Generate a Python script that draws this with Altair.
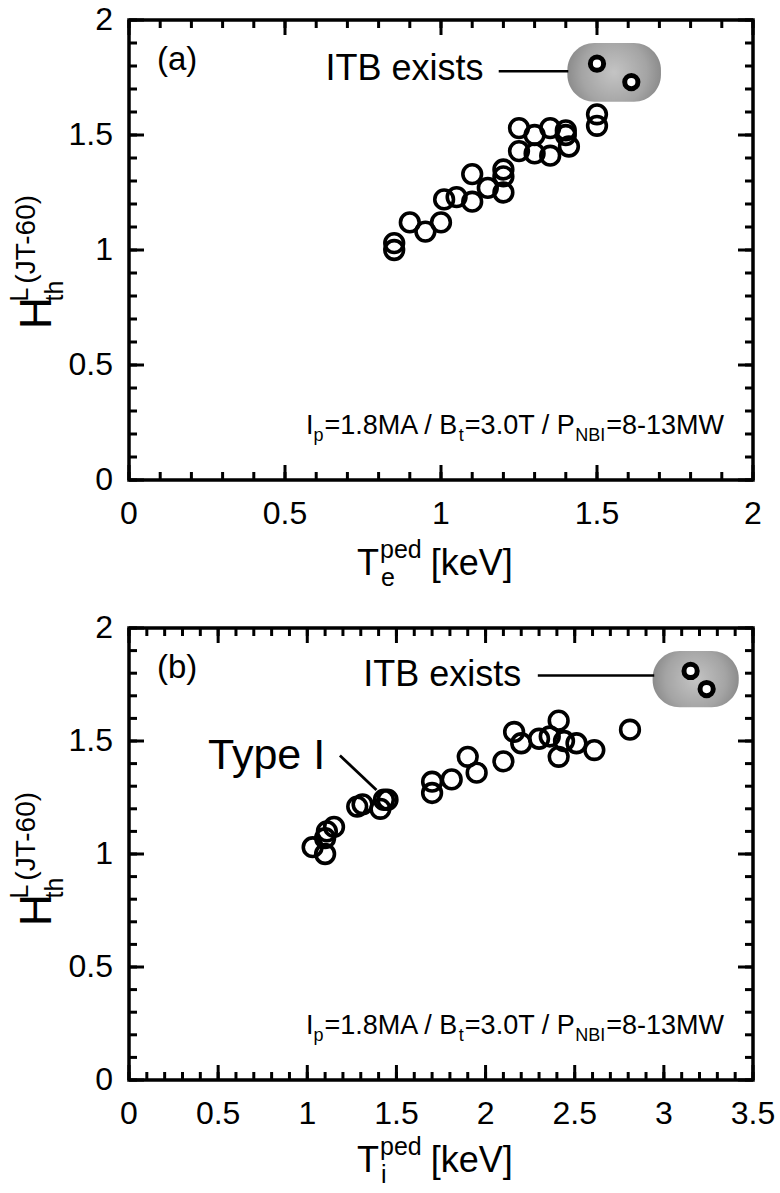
import altair as alt
import pandas as pd

FONT = "Liberation Sans"

# ---- (a) thermal H-factor vs electron pedestal temperature ----
te_ped = [0.85, 0.85, 0.90, 0.95, 1.00, 1.01, 1.05, 1.10, 1.10, 1.15, 1.20, 1.20, 1.20,
          1.25, 1.25, 1.30, 1.30, 1.35, 1.35, 1.40, 1.40, 1.41, 1.50, 1.50]
hth_a = [1.03, 1.00, 1.12, 1.08, 1.12, 1.22, 1.23, 1.21, 1.33, 1.27, 1.25, 1.32, 1.35,
         1.53, 1.43, 1.50, 1.42, 1.53, 1.41, 1.52, 1.50, 1.45, 1.59, 1.54]
te_ped_itb = [1.50, 1.61]
hth_a_itb = [1.81, 1.73]

# ---- (b) thermal H-factor vs ion pedestal temperature ----
ti_ped = [1.03, 1.10, 1.10, 1.11, 1.15, 1.28, 1.31, 1.41, 1.43, 1.45, 1.70, 1.70, 1.81,
          1.90, 1.95, 2.10, 2.16, 2.20, 2.30, 2.36, 2.41, 2.41, 2.44, 2.51, 2.61, 2.81]
hth_b = [1.03, 1.00, 1.07, 1.10, 1.12, 1.21, 1.22, 1.20, 1.24, 1.24, 1.32, 1.27, 1.33,
         1.43, 1.36, 1.41, 1.54, 1.49, 1.51, 1.52, 1.59, 1.43, 1.50, 1.49, 1.46, 1.55]
ti_ped_itb = [3.15, 3.24]
hth_b_itb = [1.81, 1.73]

# axis ticks and their labels
y_major = [0, 0.5, 1, 1.5, 2]
y_labels = ["0", "0.5", "1", "1.5", "2"]
y_minor = [i / 10 for i in range(21)]
x_major_a = [0, 0.5, 1, 1.5, 2]
x_labels_a = ["0", "0.5", "1", "1.5", "2"]
x_minor_a = [i / 10 for i in range(21)]
x_major_b = [0, 0.5, 1, 1.5, 2, 2.5, 3, 3.5]
x_labels_b = ["0", "0.5", "1", "1.5", "2", "2.5", "3", "3.5"]
x_minor_b = [i / 10 for i in range(36)]

W = 624
HA, HB = 460, 452
MAJOR, MINOR = 15, 8
TICK_FONT = 32
ONE = pd.DataFrame({"k": [0]})

# Arial / Liberation Sans advance widths (1/1000 em) for composing sub/superscripts
ADV = {" ": 278, "(": 333, ")": 333, "-": 333, ".": 278, "/": 278, "=": 584, "[": 278,
       "]": 278, "A": 667, "B": 667, "I": 278, "J": 500, "L": 556, "M": 833, "N": 722,
       "P": 667, "T": 611, "V": 667, "W": 944, "d": 556, "e": 556, "h": 556, "i": 222,
       "k": 500, "p": 556, "t": 278}


def tw(s, size):
    return sum(ADV.get(c, 556) for c in s) * size / 1000.0


def txt(s, size, x, y, angle=0):
    kw = dict(text=s, font=FONT, fontSize=size, align="left", baseline="alphabetic",
              color="black")
    if angle:
        kw["angle"] = angle
    return alt.Chart(ONE).mark_text(**kw).encode(x=alt.value(x), y=alt.value(y))


def y_title(bottom):
    # H_th^L (JT-60), read bottom-to-top
    layers = [txt("H", 44, -78, bottom, 270)]
    s = bottom - tw("H", 44) - 3
    layers.append(txt("th", 25, -66, s, 270))
    layers.append(txt("L", 25, -101, s, 270))
    s2 = s - tw("L", 25) - 4
    layers.append(txt("(JT-60)", 28, -94, s2, 270))
    return layers


def x_title(sub, base):
    x0 = 228
    layers = [txt("T", 36, x0, base)]
    x1 = x0 + tw("T", 36) + 1
    layers.append(txt("ped", 25, x1, base - 17))
    layers.append(txt(sub, 25, x1 + 1, base + 11))
    x2 = x1 + tw("ped", 25) + 9
    layers.append(txt("[keV]", 36, x2, base))
    return layers


def conditions(base):
    big, small = 27, 18
    x = 177
    out = []
    for s, sz, dy in [("I", big, 0), ("p", small, 7), ("=1.8MA / B", big, 0),
                      ("t", small, 7), ("=3.0T / P", big, 0), ("NBI", small, 7),
                      (" =8-13MW", big, 0)]:
        out.append(txt(s, sz, x, base + dy))
        x += tw(s, sz) + (1 if sz == small else 0)
    return out


def ticks(values, scale, ch, H, length):
    df = pd.DataFrame({"v": values})
    base = alt.Chart(df).mark_rule(color="black", strokeWidth=3)
    if ch == "x":
        e = alt.X("v:Q", scale=scale, axis=None)
        return [base.encode(x=e, y=alt.value(H), y2=alt.value(H - length)),
                base.encode(x=e, y=alt.value(0), y2=alt.value(length))]
    e = alt.Y("v:Q", scale=scale, axis=None)
    return [base.encode(y=e, x=alt.value(0), x2=alt.value(length)),
            base.encode(y=e, x=alt.value(W), x2=alt.value(W - length))]


def tick_labels(values, labels, scale, ch, H):
    df = pd.DataFrame({"v": values, "lab": labels})
    if ch == "x":
        return alt.Chart(df).mark_text(
            font=FONT, fontSize=TICK_FONT, align="center", baseline="top", color="black"
        ).encode(x=alt.X("v:Q", scale=scale, axis=None), y=alt.value(H + 19), text="lab:N")
    return alt.Chart(df).mark_text(
        font=FONT, fontSize=TICK_FONT, align="right", baseline="middle", color="black"
    ).encode(y=alt.Y("v:Q", scale=scale, axis=None), x=alt.value(-16), text="lab:N")


def panel(xv, yv, x_itb, y_itb, xmax, x_major, x_labels, x_minor, H, tag, sub,
          itb_txt, itb_line, blob, title_bottom, cond_base, xtitle_base, extra=None):
    xs = alt.Scale(domain=[0, xmax], nice=False, zero=False)
    ys = alt.Scale(domain=[0, 2], nice=False, zero=False)

    def X(f):
        return alt.X(f, scale=xs, axis=None)

    def Y(f):
        return alt.Y(f, scale=ys, axis=None)

    shade = alt.Chart(pd.DataFrame([blob])).mark_rect(
        cornerRadius=27,
        fill=alt.Gradient(gradient="radial",
                          stops=[alt.GradientStop(color="#c4c4c4", offset=0),
                                 alt.GradientStop(color="#a4a4a4", offset=0.7),
                                 alt.GradientStop(color="#8c8c8c", offset=1)])
    ).encode(x=X("x:Q"), x2="x2:Q", y=Y("y:Q"), y2="y2:Q")

    pts = alt.Chart(pd.DataFrame({"x": xv, "y": yv})).mark_point(
        shape="circle", filled=False, size=350, strokeWidth=3.6, color="black", opacity=1
    ).encode(x=X("x:Q"), y=Y("y:Q"))

    itb = alt.Chart(pd.DataFrame({"x": x_itb, "y": y_itb})).mark_circle(
        size=175, fill="white", stroke="black", strokeWidth=5, opacity=1
    ).encode(x=X("x:Q"), y=Y("y:Q"))

    label = alt.Chart(pd.DataFrame([itb_txt])).mark_text(
        text="ITB exists", font=FONT, fontSize=36, align="right", baseline="alphabetic",
        color="black"
    ).encode(x=X("x:Q"), y=Y("y:Q"))

    leader = alt.Chart(pd.DataFrame([itb_line])).mark_rule(
        color="black", strokeWidth=2.6
    ).encode(x=X("x:Q"), x2="x2:Q", y=Y("y:Q"), y2="y2:Q")

    layers = [shade, pts, itb, label, leader, txt(tag, 33, 28, 50)]
    if extra is not None:
        (tx, ty), (lx, ly, lx2, ly2) = extra
        layers.append(alt.Chart(pd.DataFrame([{"x": tx, "y": ty}])).mark_text(
            text="Type I", font=FONT, fontSize=43, align="right", baseline="alphabetic",
            color="black"
        ).encode(x=X("x:Q"), y=Y("y:Q")))
        layers.append(alt.Chart(pd.DataFrame([{"x": lx, "y": ly, "x2": lx2, "y2": ly2}])).mark_rule(
            color="black", strokeWidth=2.8
        ).encode(x=X("x:Q"), x2="x2:Q", y=Y("y:Q"), y2="y2:Q"))
    layers += ticks(x_minor, xs, "x", H, MINOR) + ticks(x_major, xs, "x", H, MAJOR)
    layers += ticks(y_minor, ys, "y", H, MINOR) + ticks(y_major, ys, "y", H, MAJOR)
    layers += [tick_labels(x_major, x_labels, xs, "x", H),
               tick_labels(y_major, y_labels, ys, "y", H)]
    layers += y_title(title_bottom) + x_title(sub, xtitle_base) + conditions(cond_base)
    return layers


layers_a = panel(te_ped, hth_a, te_ped_itb, hth_a_itb, 2, x_major_a, x_labels_a, x_minor_a,
                 HA, "(a)", "e",
                 {"x": 1.136, "y": 1.741},
                 {"x": 1.185, "x2": 1.408, "y": 1.777, "y2": 1.777},
                 {"x": 1.405, "x2": 1.705, "y": 1.645, "y2": 1.900},
                 309, 414, 555)
# fixes the outer corner of the drawing so the page offset is predictable
anchor = alt.Chart(ONE).mark_rule(strokeOpacity=0).encode(
    x=alt.value(-127), x2=alt.value(-126), y=alt.value(-18), y2=alt.value(-17))
chart_a = alt.layer(anchor, *layers_a).properties(width=W, height=HA)

layers_b = panel(ti_ped, hth_b, ti_ped_itb, hth_b_itb, 3.5, x_major_b, x_labels_b, x_minor_b,
                 HB, "(b)", "i",
                 {"x": 2.20, "y": 1.744},
                 {"x": 2.293, "x2": 2.946, "y": 1.79, "y2": 1.79},
                 {"x": 2.937, "x2": 3.42, "y": 1.649, "y2": 1.898},
                 298, 406, 544,
                 extra=((1.10, 1.375), (1.183, 1.436, 1.388, 1.283)))
chart_b = alt.layer(*layers_b).properties(width=W, height=HB)

chart = alt.vconcat(chart_a, chart_b, spacing=148, bounds="flush").properties(
    padding=0, background="white"
).configure_view(stroke="black", strokeWidth=3.5)

chart.save("out.html", embed_options={"renderer": "svg", "actions": False})
